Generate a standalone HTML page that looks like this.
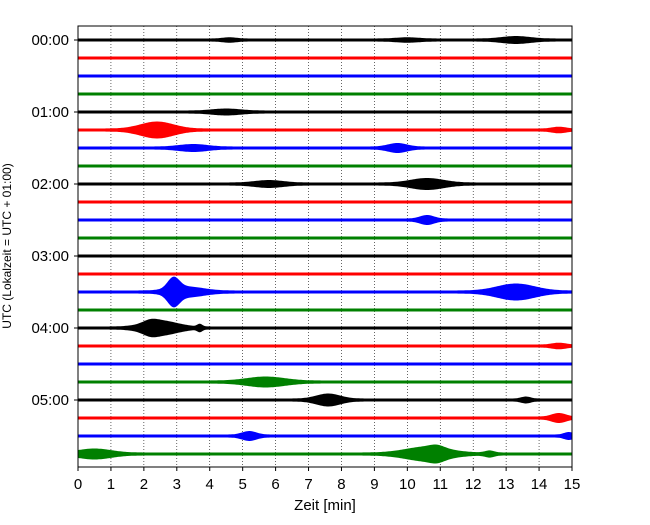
<!DOCTYPE html>
<html><head><meta charset="utf-8"><style>
body{margin:0;background:#fff}
svg{font-family:"Liberation Sans","DejaVu Sans",sans-serif}
</style></head><body>
<svg id="chart" width="650" height="520" viewBox="0 0 650 520">
<rect width="650" height="520" fill="#fff"/>
<g id="grid"></g>
<g id="traces"></g>
<rect x="78" y="26" width="494" height="441" fill="none" stroke="#000" stroke-width="1"/>
<g id="xaxis"></g>
<g id="yaxis"></g>
<text x="325" y="510" font-size="15" text-anchor="middle">Zeit  [min]</text>
<text transform="translate(11,246) rotate(-90)" font-size="12" text-anchor="middle">UTC (Lokalzeit = UTC + 01:00)</text>
</svg>
<script>
const xTicks=[0,1,2,3,4,5,6,7,8,9,10,11,12,13,14,15];
const rowLabels=["00:00","01:00","02:00","03:00","04:00","05:00"];
const rowCount=24;
const colors=["#000000","#ff0000","#0000ff","#008000"];
// events: [row, center minute, half width minute, amplitude px]
const eventRows=[0,0,0,4,5,5,6,6,8,8,10,14,14,14,16,16,16,17,19,20,20,21,22,22,23,23,23,23];
const eventCenters=[13.3,10.0,4.6,4.5,2.4,14.6,3.5,9.7,5.8,10.6,10.6,2.9,3.3,13.3,2.5,2.2,3.7,14.6,5.7,7.6,13.6,14.6,5.2,14.9,0.5,10.6,10.9,12.5];
const eventWidths=[0.6,0.5,0.3,0.6,0.7,0.3,0.6,0.4,0.6,0.7,0.3,0.25,0.7,0.8,0.7,0.3,0.1,0.3,0.8,0.5,0.2,0.3,0.3,0.2,0.7,0.9,0.3,0.2];
const eventAmps=[2.5,1.2,1.2,2,7,1.8,2.5,3.5,2.5,4.5,3.5,11,4,7,6,2.5,2.5,1.8,4,5,2,3.5,3.5,2.5,4,6,2.5,2];
const NS="http://www.w3.org/2000/svg";
const X0=78,X1=572,Y0=40,DY=18;
const xs=m=>X0+m/15*(X1-X0);
const ys=r=>Y0+r*DY;
const grid=document.getElementById('grid'),tr=document.getElementById('traces'),xa=document.getElementById('xaxis'),ya=document.getElementById('yaxis');
xTicks.forEach(t=>{
  if(t>0&&t<15){const l=document.createElementNS(NS,'line');
  
  
  l.setAttribute('x1',xs(t));l.setAttribute('x2',xs(t));l.setAttribute('y1',26);l.setAttribute('y2',467);
  l.setAttribute('stroke','#000');l.setAttribute('stroke-width','0.6');l.setAttribute('stroke-dasharray','1,2');grid.appendChild(l);}
  const k=document.createElementNS(NS,'line');
  
  
  k.setAttribute('x1',xs(t));k.setAttribute('x2',xs(t));k.setAttribute('y1',467);k.setAttribute('y2',471);k.setAttribute('stroke','#000');xa.appendChild(k);
  const tx=document.createElementNS(NS,'text');
  
  
  tx.setAttribute('x',xs(t));tx.setAttribute('y',489);tx.setAttribute('font-size','15');tx.setAttribute('text-anchor','middle');tx.textContent=t;xa.appendChild(tx);
});
rowLabels.forEach((lab,i)=>{
  const y=ys(i*4);
  const k=document.createElementNS(NS,'line');
  
  
  k.setAttribute('x1',74);k.setAttribute('x2',78);k.setAttribute('y1',y);k.setAttribute('y2',y);k.setAttribute('stroke','#000');ya.appendChild(k);
  const tx=document.createElementNS(NS,'text');
  
  
  tx.setAttribute('x',69);tx.setAttribute('y',y+5);tx.setAttribute('font-size','15');tx.setAttribute('text-anchor','end');tx.textContent=lab;ya.appendChild(tx);
});
for(let r=0;r<rowCount;r++){
  const y=ys(r);const top=[],bot=[];
  for(let px=X0;px<=X1;px+=1){
    const m=(px-X0)/(X1-X0)*15;let a=1.5;
    for(let e=0;e<eventRows.length;e++){if(eventRows[e]!==r)continue;
      const d=(m-eventCenters[e])/eventWidths[e];a+=eventAmps[e]*Math.exp(-d*d);}
    top.push(px+','+(y-a).toFixed(1));bot.unshift(px+','+(y+a).toFixed(1));
  }
  const p=document.createElementNS(NS,'polygon');
  
  
  p.setAttribute('points',top.concat(bot).join(' '));p.setAttribute('fill',colors[r%4]);tr.appendChild(p);
}
</script>
</body></html>
